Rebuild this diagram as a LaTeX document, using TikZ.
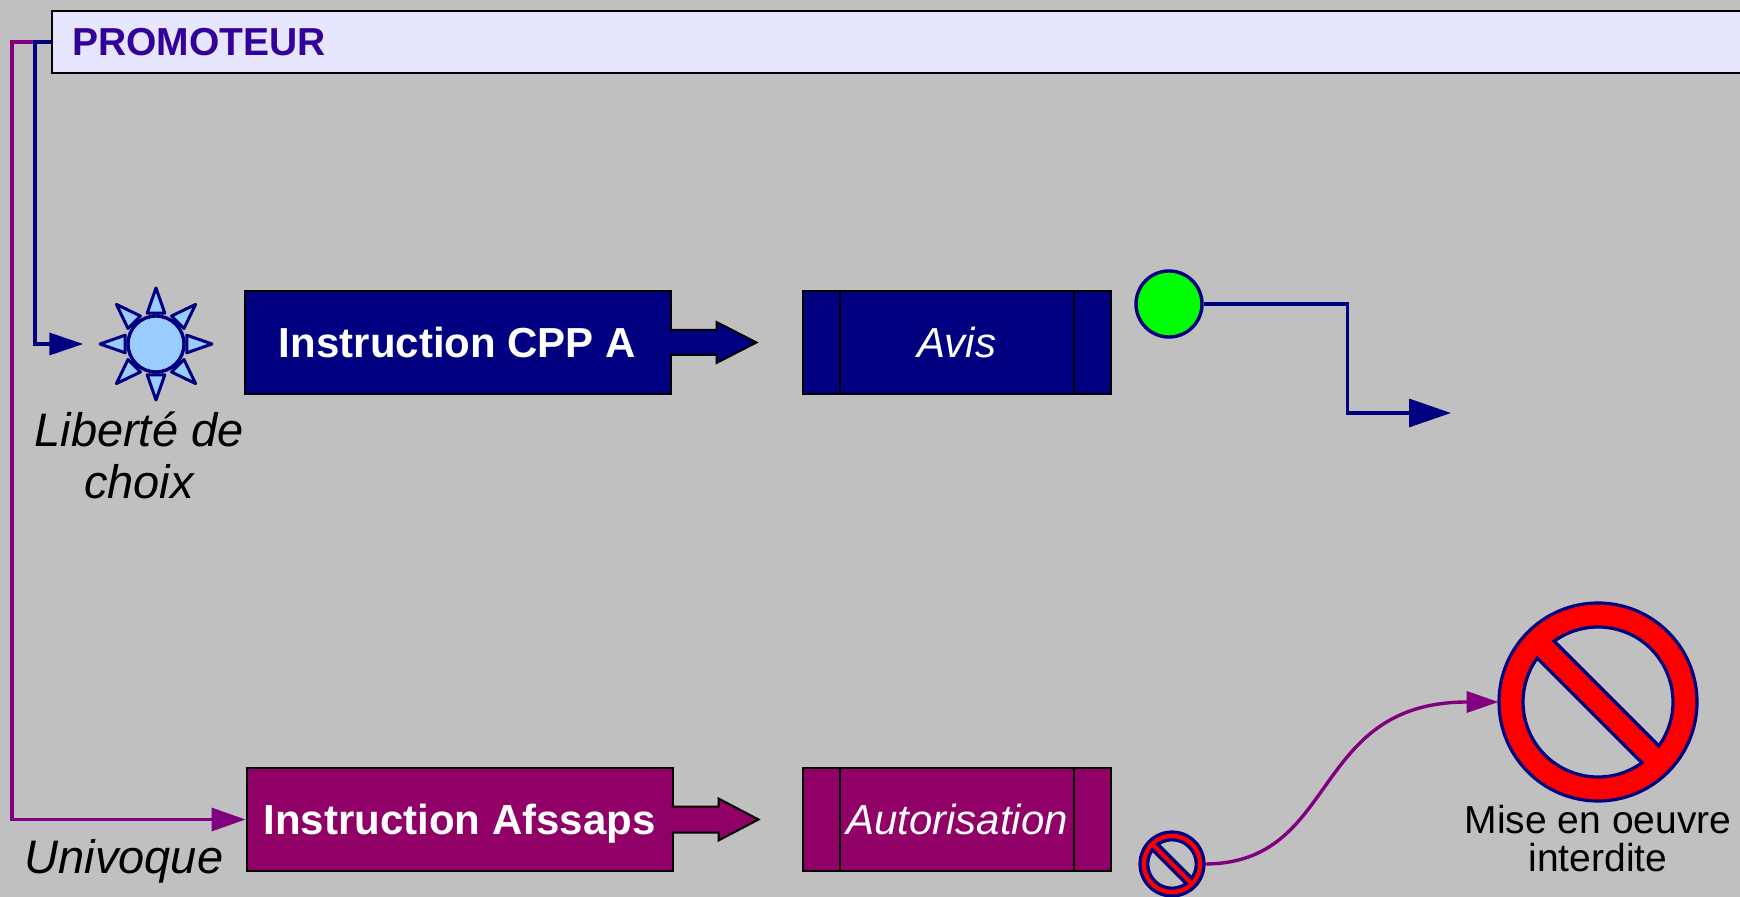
\documentclass[tikz,border=0pt]{standalone}
\usepackage{fontspec}
\setmainfont{Liberation Sans}
\usepackage{tikz}
\usetikzlibrary{positioning,arrows.meta}

\definecolor{navy}{HTML}{000080}
\definecolor{plum}{HTML}{900066}
\definecolor{violet}{HTML}{800080}
\definecolor{headtext}{HTML}{330099}
\definecolor{headfill}{HTML}{E6E6FF}
\definecolor{bggray}{HTML}{C0C0C0}
\definecolor{sunblue}{HTML}{99CCFF}

\tikzset{
  interdit/.pic={
    \path[fill=red, draw=navy, line width=1.6pt, even odd rule]
      (0,0) circle[radius=99]
      (-125.79:75) arc[start angle=-125.79, end angle=35.79, radius=75] -- cycle
      (54.21:75) arc[start angle=54.21, end angle=215.79, radius=75] -- cycle;
  }
}

\begin{document}
\begin{tikzpicture}[x=0.5pt, y=-0.5pt,
    header/.style={rectangle, draw=black, line width=1pt, fill=headfill, anchor=west,
      minimum height=31pt, text width=840pt, inner xsep=10pt, align=left,
      text=headtext, font=\fontsize{19.5pt}{23pt}\selectfont\bfseries},
    box/.style={rectangle, draw=black, line width=1pt, fill=#1, minimum width=213pt,
      minimum height=51.5pt, text=white, text height=15pt, text depth=0pt,
      font=\fontsize{21pt}{25pt}\selectfont\bfseries},
    docbox/.style={rectangle, draw=black, line width=1pt, fill=#1, minimum width=154pt,
      minimum height=51.5pt, text=white, text height=15pt, text depth=0pt,
      font=\fontsize{21pt}{25pt}\selectfont\itshape,
      path picture={
        \draw[black, line width=1pt]
          ([xshift=18.5pt]path picture bounding box.north west) --
          ([xshift=18.5pt]path picture bounding box.south west)
          ([xshift=-18.5pt]path picture bounding box.north east) --
          ([xshift=-18.5pt]path picture bounding box.south east);}},
    lbl/.style={inner sep=0pt, align=center, font=\fontsize{23.5pt}{26pt}\selectfont\itshape},
    fatarrow/.style={fill=#1, draw=black, line width=1pt},
    sunray/.style={fill=sunblue, draw=navy, line width=1.5pt, line join=round},
    link/.style={draw=#1, line width=1.7pt},]
    \fill[bggray] (0,0) rectangle (1740,897);
    \useasboundingbox (0,0) rectangle (1740,897);

    %Nodes
    \node[header, minimum width=860pt] (promoteur) at (51,42) {PROMOTEUR};
    \node[circle, draw=navy, fill=sunblue, line width=1.7pt, minimum size=28pt, inner sep=0pt] (sun) at (156,344) {};
    \foreach \a in {0,45,...,315}
      \draw[sunray] ([shift={(\a:56)}]sun.center) -- ([shift={(\a+16:32)}]sun.center)
        -- ([shift={(\a-16:32)}]sun.center) -- cycle;
    \node[lbl, anchor=north] (liberte) at (139,411) {Libert\'e de\\choix};
    \node[box=navy] (cpp) at (457.5,342.5) {Instruction CPP A};
    \node[docbox=navy] (avis) at (957,342.5) {Avis};
    \node[circle, draw=navy, fill=green, line width=1.7pt, minimum size=33pt, inner sep=0pt] (go) at (1169,304) {};
    \coordinate (goend) at (1451,413);

    \node[box=plum] (afssaps) at (459.5,819.5) {Instruction Afssaps};
    \node[lbl, anchor=base] (univoque) at (124,873) {Univoque};
    \node[docbox=plum] (autorisation) at (957,819.5) {Autorisation};
    \node[circle, minimum size=32pt, inner sep=0pt] (nogo) at (1172,864) {};
    \pic[scale=0.323] at (nogo) {interdit};
    \node[circle, minimum size=99pt, inner sep=0pt] (stop) at (1598,702) {};
    \pic at (stop) {interdit};
    \node[inner sep=0pt, align=center, font=\fontsize{19.5pt}{19pt}\selectfont] (mise) [below=1.5pt of stop] {Mise en oeuvre\\interdite};

    % %Lines
    \draw[link=violet, -{Triangle[length=17pt, width=11.5pt]}] (promoteur.west) -- ++(-39,0) |- (afssaps.west);
    \draw[link=navy, -{Triangle[length=17pt, width=11pt]}] (promoteur.west) -- ++(-16,0) |- ([xshift=-21.5pt]sun.west);
    \draw[fatarrow=navy] (cpp.east) ++(-2,-12.5) -- ++(47,0) -- ++(0,-8) -- ++(40,20.5) -- ++(-40,20.5) -- ++(0,-8) -- ++(-47,0);
    \draw[fatarrow=plum] (afssaps.east) ++(-2,-13) -- ++(47,0) -- ++(0,-8) -- ++(40,21) -- ++(-40,21) -- ++(0,-8) -- ++(-47,0);
    \draw[link=navy, -{Triangle[length=21pt, width=14pt]}] (go.east) -- ++(144,0) |- (goend);
    \draw[link=violet, -{Triangle[length=16pt, width=10.5pt]}] (nogo.east) .. controls +(136,0) and +(-190,0) .. (stop.west);
  \end{tikzpicture}
\end{document}
